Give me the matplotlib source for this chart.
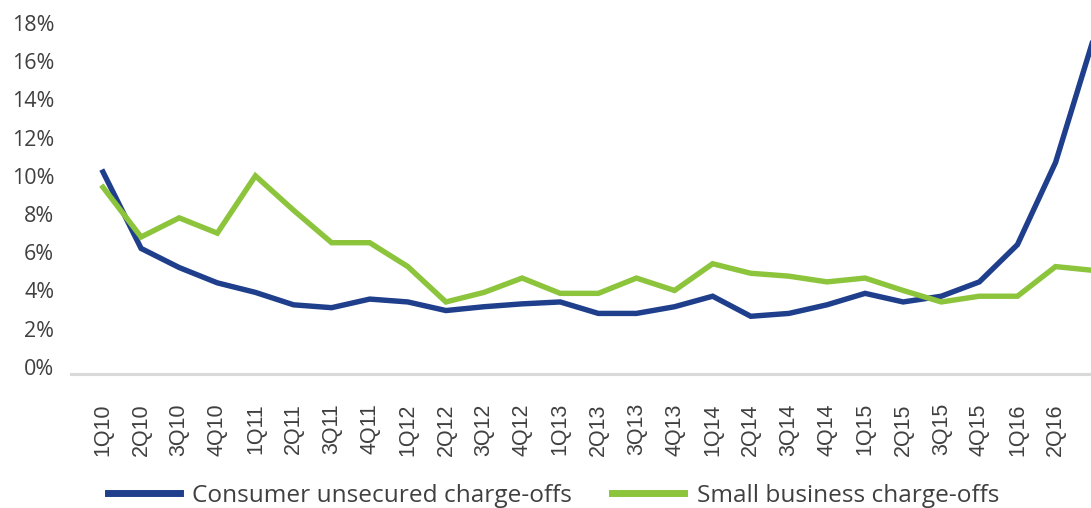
import matplotlib.pyplot as plt
from matplotlib.ticker import FuncFormatter

# quarters (last one is cut off at the right edge in the original)
quarters = ['1Q10', '2Q10', '3Q10', '4Q10', '1Q11', '2Q11', '3Q11', '4Q11',
            '1Q12', '2Q12', '3Q12', '4Q12', '1Q13', '2Q13', '3Q13', '4Q13',
            '1Q14', '2Q14', '3Q14', '4Q14', '1Q15', '2Q15', '3Q15', '4Q15',
            '1Q16', '2Q16', '3Q16']

# charge-off rates, %
consumer = [10.2, 6.2, 5.2, 4.4, 3.9, 3.25, 3.1, 3.55,
            3.4, 2.95, 3.15, 3.3, 3.4, 2.8, 2.8, 3.15,
            3.7, 2.65, 2.8, 3.25, 3.85, 3.4, 3.7, 4.45,
            6.4, 10.7, 17.2]
small_biz = [9.4, 6.8, 7.8, 7.0, 10.0, 8.2, 6.5, 6.5,
             5.25, 3.4, 3.9, 4.65, 3.85, 3.85, 4.65, 4.0,
             5.4, 4.9, 4.75, 4.45, 4.65, 4.0, 3.4, 3.7,
             3.7, 5.25, 5.05]

yticks = [0, 2, 4, 6, 8, 10, 12, 14, 16, 18]

blue = '#1f3f8c'
green = '#8cc43c'
txt = '#404040'

fig = plt.figure(figsize=(10.91, 5.08), dpi=100)
ax = fig.add_axes([71 / 1091, 134 / 508, 1020 / 1091, 374 / 508])

x = list(range(len(quarters)))
ax.plot(x, consumer, color=blue, lw=3.9, solid_joinstyle='miter', label='Consumer unsecured charge-offs')
ax.plot(x, small_biz, color=green, lw=3.9, solid_joinstyle='miter', label='Small business charge-offs')

ax.set_xlim(-0.84, 25.93)
ax.set_ylim(-0.37, 19.2)

for s in ['top', 'right', 'left']:
    ax.spines[s].set_visible(False)
ax.spines['bottom'].set_color('#d9d9d9')
ax.spines['bottom'].set_linewidth(2.2)

ax.set_yticks(yticks)
ax.yaxis.set_major_formatter(FuncFormatter(lambda v, p: '%d%%' % v))
ax.tick_params(axis='y', length=0, pad=12, labelsize=15.5, labelcolor=txt)
for t in ax.get_yticklabels():
    t.set_family('Open Sans')

ax.set_xticks(x[:-1])
ax.set_xticklabels(quarters[:-1], rotation=90, fontsize=15.5, color=txt,
                   family='Liberation Sans')
ax.tick_params(axis='x', length=0, pad=21)

leg = ax.legend(loc='lower left', bbox_to_anchor=(15 / 1020, -156 / 374), ncol=2,
                frameon=False, handlelength=2.95, handletextpad=0.5, columnspacing=1.64,
                prop={'family': 'Open Sans', 'size': 17.6})
for t in leg.get_texts():
    t.set_color(txt)
for h in leg.get_lines():
    h.set_linewidth(5)

fig.savefig('out.png', dpi=100)
